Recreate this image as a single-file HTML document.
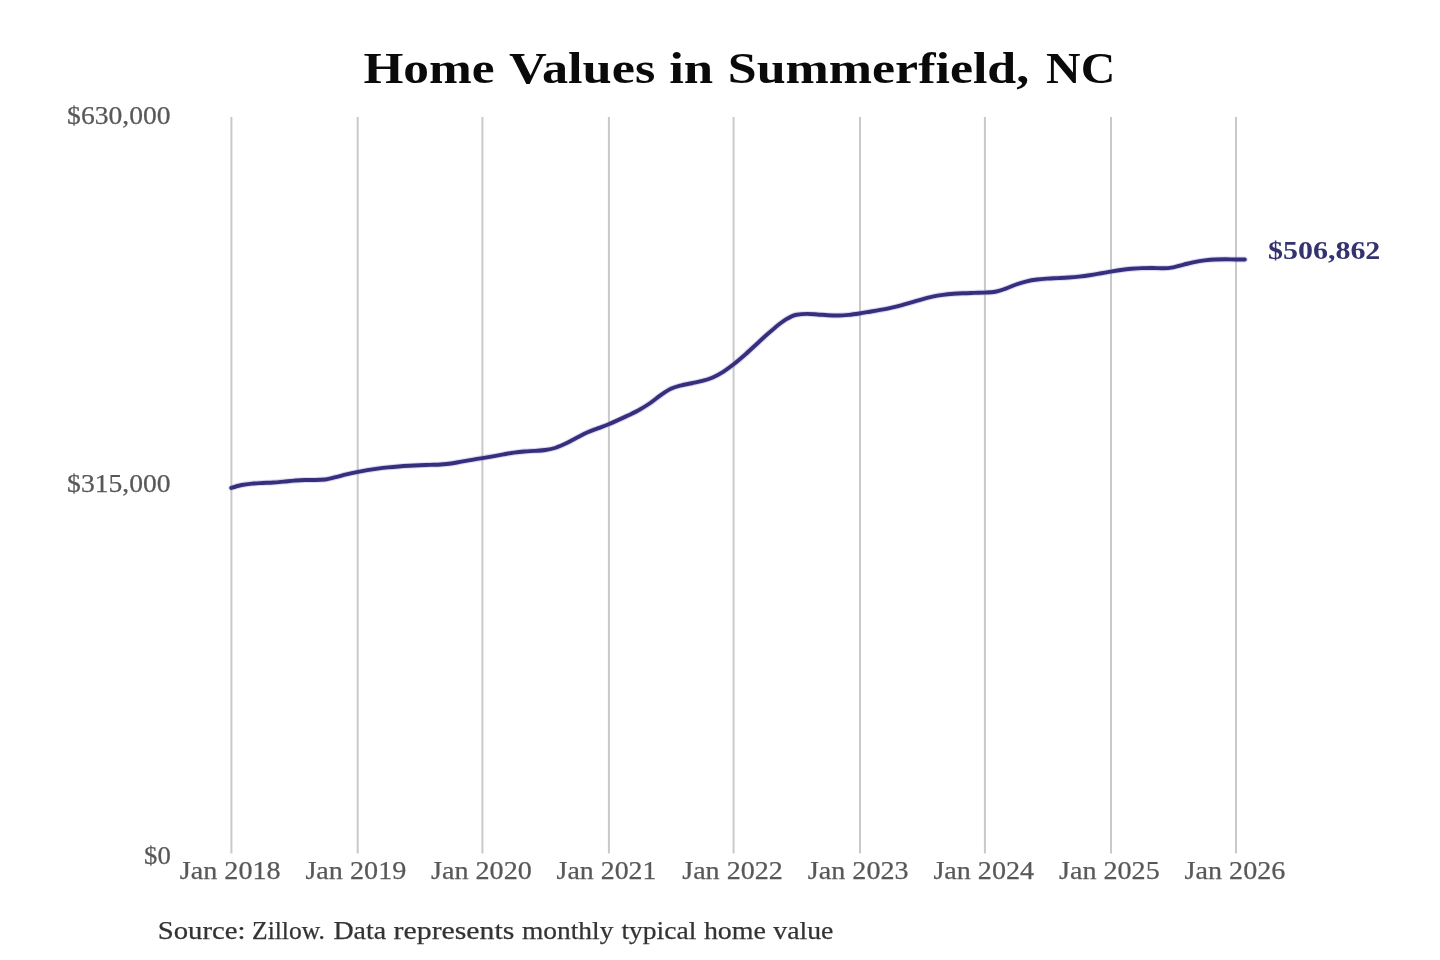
<!DOCTYPE html>
<html><head><meta charset="utf-8"><title>Home Values in Summerfield, NC</title><style>
html,body{margin:0;padding:0;background:#fff;}
svg{display:block;will-change:transform;}
text{font-family:"Liberation Serif",serif;}
</style></head><body>
<svg width="1440" height="960" viewBox="0 0 1440 960">
<rect width="1440" height="960" fill="#fff"/>
<g font-weight="bold">
<text x="363.40" y="82.7" font-size="44" textLength="131.20" lengthAdjust="spacingAndGlyphs" fill="#0a0a0a">Home</text>
<text x="508.98" y="82.7" font-size="44" textLength="146.33" lengthAdjust="spacingAndGlyphs" fill="#0a0a0a">Values</text>
<text x="669.21" y="82.7" font-size="44" textLength="44.03" lengthAdjust="spacingAndGlyphs" fill="#0a0a0a">in</text>
<text x="727.77" y="82.7" font-size="44" textLength="301.47" lengthAdjust="spacingAndGlyphs" fill="#0a0a0a">Summerfield,</text>
<text x="1046.14" y="82.7" font-size="44" textLength="69.14" lengthAdjust="spacingAndGlyphs" fill="#0a0a0a">NC</text>
</g>
<g stroke="#c9c9c9" stroke-width="2.0"><line x1="231.40" y1="117" x2="231.40" y2="853.5"/><line x1="357.70" y1="117" x2="357.70" y2="853.5"/><line x1="482.40" y1="117" x2="482.40" y2="853.5"/><line x1="608.90" y1="117" x2="608.90" y2="853.5"/><line x1="733.60" y1="117" x2="733.60" y2="853.5"/><line x1="860.00" y1="117" x2="860.00" y2="853.5"/><line x1="984.90" y1="117" x2="984.90" y2="853.5"/><line x1="1111.00" y1="117" x2="1111.00" y2="853.5"/><line x1="1236.00" y1="117" x2="1236.00" y2="853.5"/></g>
<g stroke="#585858" stroke-width="0.25">
<text x="67.13" y="124.2" font-size="26.2" textLength="103.51" lengthAdjust="spacingAndGlyphs" fill="#585858">$630,000</text>
<text x="67.13" y="492.2" font-size="26.2" textLength="103.51" lengthAdjust="spacingAndGlyphs" fill="#585858">$315,000</text>
<text x="144.06" y="863.7" font-size="26.2" textLength="26.74" lengthAdjust="spacingAndGlyphs" fill="#585858">$0</text>
<text x="179.82" y="879.3" font-size="26.2" textLength="100.83" lengthAdjust="spacingAndGlyphs" fill="#585858">Jan 2018</text>
<text x="305.42" y="879.3" font-size="26.2" textLength="100.91" lengthAdjust="spacingAndGlyphs" fill="#585858">Jan 2019</text>
<text x="431.02" y="879.3" font-size="26.2" textLength="100.83" lengthAdjust="spacingAndGlyphs" fill="#585858">Jan 2020</text>
<text x="556.62" y="879.3" font-size="26.2" textLength="99.84" lengthAdjust="spacingAndGlyphs" fill="#585858">Jan 2021</text>
<text x="682.22" y="879.3" font-size="26.2" textLength="100.62" lengthAdjust="spacingAndGlyphs" fill="#585858">Jan 2022</text>
<text x="807.82" y="879.3" font-size="26.2" textLength="100.80" lengthAdjust="spacingAndGlyphs" fill="#585858">Jan 2023</text>
<text x="933.42" y="879.3" font-size="26.2" textLength="100.60" lengthAdjust="spacingAndGlyphs" fill="#585858">Jan 2024</text>
<text x="1059.02" y="879.3" font-size="26.2" textLength="100.70" lengthAdjust="spacingAndGlyphs" fill="#585858">Jan 2025</text>
<text x="1184.62" y="879.3" font-size="26.2" textLength="100.72" lengthAdjust="spacingAndGlyphs" fill="#585858">Jan 2026</text>
</g>
<path d="M231.25,487.91 C234.74,486.81 238.23,485.71 241.72,484.99 C245.21,484.27 248.69,483.91 252.18,483.58 C255.67,483.24 259.16,483.15 262.65,482.97 C266.14,482.79 269.63,482.71 273.12,482.49 C276.61,482.26 280.09,481.93 283.58,481.63 C287.07,481.32 290.56,480.92 294.05,480.65 C297.54,480.38 301.03,480.07 304.52,480.02 C308.01,479.97 311.49,479.99 314.98,479.95 C318.47,479.90 321.96,479.78 325.45,479.44 C328.94,479.11 332.43,477.88 335.92,477.04 C339.41,476.20 342.89,475.23 346.38,474.41 C349.87,473.59 353.36,472.81 356.85,472.10 C360.34,471.39 363.83,470.74 367.32,470.15 C370.81,469.57 374.29,469.05 377.78,468.59 C381.27,468.13 384.76,467.73 388.25,467.37 C391.74,467.01 395.23,466.71 398.72,466.44 C402.21,466.17 405.69,465.95 409.18,465.75 C412.67,465.55 416.16,465.38 419.65,465.23 C423.14,465.08 426.63,464.98 430.12,464.84 C433.61,464.71 437.09,464.66 440.58,464.43 C444.07,464.19 447.56,463.92 451.05,463.45 C454.54,462.99 458.03,462.25 461.52,461.64 C465.01,461.03 468.49,460.40 471.98,459.81 C475.47,459.22 478.96,458.67 482.45,458.08 C485.94,457.50 489.43,456.92 492.92,456.31 C496.41,455.70 499.89,455.02 503.38,454.42 C506.87,453.82 510.36,453.18 513.85,452.69 C517.34,452.20 520.83,451.78 524.32,451.48 C527.81,451.17 531.29,451.12 534.78,450.88 C538.27,450.64 541.76,450.54 545.25,450.02 C548.74,449.49 552.23,448.86 555.72,447.75 C559.21,446.64 562.69,445.01 566.18,443.36 C569.67,441.70 573.16,439.62 576.65,437.82 C580.14,436.02 583.63,434.10 587.12,432.54 C590.61,430.97 594.09,429.76 597.58,428.43 C601.07,427.09 604.56,425.95 608.05,424.53 C611.54,423.10 615.03,421.45 618.52,419.88 C622.01,418.30 625.49,416.76 628.98,415.08 C632.47,413.40 635.96,411.75 639.45,409.78 C642.94,407.81 646.43,405.65 649.92,403.26 C653.41,400.88 656.89,397.86 660.38,395.45 C663.87,393.04 667.36,390.49 670.85,388.81 C674.34,387.14 677.83,386.32 681.32,385.39 C684.81,384.47 688.29,384.01 691.78,383.27 C695.27,382.54 698.76,381.95 702.25,380.98 C705.74,380.00 709.23,378.95 712.72,377.42 C716.21,375.89 719.69,373.97 723.18,371.78 C726.67,369.59 730.16,367.02 733.65,364.31 C737.14,361.60 740.63,358.58 744.12,355.52 C747.61,352.47 751.09,349.18 754.58,345.97 C758.07,342.77 761.56,339.43 765.05,336.29 C768.54,333.16 772.03,329.97 775.52,327.16 C779.01,324.35 782.49,321.51 785.98,319.43 C789.47,317.36 792.96,315.29 796.45,314.74 C799.94,314.19 803.43,313.91 806.92,313.91 C810.41,313.91 813.89,314.25 817.38,314.47 C820.87,314.69 824.36,315.04 827.85,315.21 C831.34,315.38 834.83,315.50 838.32,315.50 C841.81,315.50 845.29,315.19 848.78,314.85 C852.27,314.52 855.76,314.00 859.25,313.48 C862.74,312.97 866.23,312.34 869.72,311.75 C873.21,311.16 876.69,310.58 880.18,309.94 C883.67,309.30 887.16,308.66 890.65,307.91 C894.14,307.16 897.63,306.35 901.12,305.44 C904.61,304.52 908.09,303.45 911.58,302.43 C915.07,301.40 918.56,300.27 922.05,299.30 C925.54,298.34 929.03,297.38 932.52,296.63 C936.01,295.88 939.49,295.30 942.98,294.83 C946.47,294.35 949.96,294.04 953.45,293.77 C956.94,293.50 960.43,293.35 963.92,293.19 C967.41,293.04 970.89,292.96 974.38,292.85 C977.87,292.75 981.36,292.76 984.85,292.58 C988.34,292.40 991.83,292.30 995.32,291.74 C998.81,291.18 1002.29,289.80 1005.78,288.59 C1009.27,287.38 1012.76,285.70 1016.25,284.49 C1019.74,283.28 1023.23,282.15 1026.72,281.32 C1030.21,280.49 1033.69,279.95 1037.18,279.50 C1040.67,279.05 1044.16,278.84 1047.65,278.61 C1051.14,278.37 1054.63,278.28 1058.12,278.09 C1061.61,277.90 1065.09,277.73 1068.58,277.47 C1072.07,277.22 1075.56,276.94 1079.05,276.57 C1082.54,276.20 1086.03,275.78 1089.52,275.27 C1093.01,274.76 1096.49,274.14 1099.98,273.53 C1103.47,272.93 1106.96,272.24 1110.45,271.64 C1113.94,271.05 1117.43,270.43 1120.92,269.96 C1124.41,269.48 1127.89,269.08 1131.38,268.78 C1134.87,268.48 1138.36,268.21 1141.85,268.15 C1145.34,268.09 1148.83,268.06 1152.32,268.06 C1155.81,268.06 1159.29,268.24 1162.78,268.24 C1166.27,268.24 1169.76,267.94 1173.25,267.34 C1176.74,266.75 1180.23,265.49 1183.72,264.62 C1187.21,263.75 1190.69,262.81 1194.18,262.11 C1197.67,261.40 1201.16,260.83 1204.65,260.39 C1208.14,259.95 1211.63,259.59 1215.12,259.49 C1218.61,259.38 1222.09,259.32 1225.58,259.32 C1229.07,259.32 1232.56,259.49 1236.05,259.50 C1238.97,259.50 1241.88,259.50 1244.80,259.50" fill="none" stroke="#8a80e0" stroke-width="6.0" stroke-linecap="round" stroke-linejoin="round" stroke-opacity="0.3"/>
<path d="M231.25,487.91 C234.74,486.81 238.23,485.71 241.72,484.99 C245.21,484.27 248.69,483.91 252.18,483.58 C255.67,483.24 259.16,483.15 262.65,482.97 C266.14,482.79 269.63,482.71 273.12,482.49 C276.61,482.26 280.09,481.93 283.58,481.63 C287.07,481.32 290.56,480.92 294.05,480.65 C297.54,480.38 301.03,480.07 304.52,480.02 C308.01,479.97 311.49,479.99 314.98,479.95 C318.47,479.90 321.96,479.78 325.45,479.44 C328.94,479.11 332.43,477.88 335.92,477.04 C339.41,476.20 342.89,475.23 346.38,474.41 C349.87,473.59 353.36,472.81 356.85,472.10 C360.34,471.39 363.83,470.74 367.32,470.15 C370.81,469.57 374.29,469.05 377.78,468.59 C381.27,468.13 384.76,467.73 388.25,467.37 C391.74,467.01 395.23,466.71 398.72,466.44 C402.21,466.17 405.69,465.95 409.18,465.75 C412.67,465.55 416.16,465.38 419.65,465.23 C423.14,465.08 426.63,464.98 430.12,464.84 C433.61,464.71 437.09,464.66 440.58,464.43 C444.07,464.19 447.56,463.92 451.05,463.45 C454.54,462.99 458.03,462.25 461.52,461.64 C465.01,461.03 468.49,460.40 471.98,459.81 C475.47,459.22 478.96,458.67 482.45,458.08 C485.94,457.50 489.43,456.92 492.92,456.31 C496.41,455.70 499.89,455.02 503.38,454.42 C506.87,453.82 510.36,453.18 513.85,452.69 C517.34,452.20 520.83,451.78 524.32,451.48 C527.81,451.17 531.29,451.12 534.78,450.88 C538.27,450.64 541.76,450.54 545.25,450.02 C548.74,449.49 552.23,448.86 555.72,447.75 C559.21,446.64 562.69,445.01 566.18,443.36 C569.67,441.70 573.16,439.62 576.65,437.82 C580.14,436.02 583.63,434.10 587.12,432.54 C590.61,430.97 594.09,429.76 597.58,428.43 C601.07,427.09 604.56,425.95 608.05,424.53 C611.54,423.10 615.03,421.45 618.52,419.88 C622.01,418.30 625.49,416.76 628.98,415.08 C632.47,413.40 635.96,411.75 639.45,409.78 C642.94,407.81 646.43,405.65 649.92,403.26 C653.41,400.88 656.89,397.86 660.38,395.45 C663.87,393.04 667.36,390.49 670.85,388.81 C674.34,387.14 677.83,386.32 681.32,385.39 C684.81,384.47 688.29,384.01 691.78,383.27 C695.27,382.54 698.76,381.95 702.25,380.98 C705.74,380.00 709.23,378.95 712.72,377.42 C716.21,375.89 719.69,373.97 723.18,371.78 C726.67,369.59 730.16,367.02 733.65,364.31 C737.14,361.60 740.63,358.58 744.12,355.52 C747.61,352.47 751.09,349.18 754.58,345.97 C758.07,342.77 761.56,339.43 765.05,336.29 C768.54,333.16 772.03,329.97 775.52,327.16 C779.01,324.35 782.49,321.51 785.98,319.43 C789.47,317.36 792.96,315.29 796.45,314.74 C799.94,314.19 803.43,313.91 806.92,313.91 C810.41,313.91 813.89,314.25 817.38,314.47 C820.87,314.69 824.36,315.04 827.85,315.21 C831.34,315.38 834.83,315.50 838.32,315.50 C841.81,315.50 845.29,315.19 848.78,314.85 C852.27,314.52 855.76,314.00 859.25,313.48 C862.74,312.97 866.23,312.34 869.72,311.75 C873.21,311.16 876.69,310.58 880.18,309.94 C883.67,309.30 887.16,308.66 890.65,307.91 C894.14,307.16 897.63,306.35 901.12,305.44 C904.61,304.52 908.09,303.45 911.58,302.43 C915.07,301.40 918.56,300.27 922.05,299.30 C925.54,298.34 929.03,297.38 932.52,296.63 C936.01,295.88 939.49,295.30 942.98,294.83 C946.47,294.35 949.96,294.04 953.45,293.77 C956.94,293.50 960.43,293.35 963.92,293.19 C967.41,293.04 970.89,292.96 974.38,292.85 C977.87,292.75 981.36,292.76 984.85,292.58 C988.34,292.40 991.83,292.30 995.32,291.74 C998.81,291.18 1002.29,289.80 1005.78,288.59 C1009.27,287.38 1012.76,285.70 1016.25,284.49 C1019.74,283.28 1023.23,282.15 1026.72,281.32 C1030.21,280.49 1033.69,279.95 1037.18,279.50 C1040.67,279.05 1044.16,278.84 1047.65,278.61 C1051.14,278.37 1054.63,278.28 1058.12,278.09 C1061.61,277.90 1065.09,277.73 1068.58,277.47 C1072.07,277.22 1075.56,276.94 1079.05,276.57 C1082.54,276.20 1086.03,275.78 1089.52,275.27 C1093.01,274.76 1096.49,274.14 1099.98,273.53 C1103.47,272.93 1106.96,272.24 1110.45,271.64 C1113.94,271.05 1117.43,270.43 1120.92,269.96 C1124.41,269.48 1127.89,269.08 1131.38,268.78 C1134.87,268.48 1138.36,268.21 1141.85,268.15 C1145.34,268.09 1148.83,268.06 1152.32,268.06 C1155.81,268.06 1159.29,268.24 1162.78,268.24 C1166.27,268.24 1169.76,267.94 1173.25,267.34 C1176.74,266.75 1180.23,265.49 1183.72,264.62 C1187.21,263.75 1190.69,262.81 1194.18,262.11 C1197.67,261.40 1201.16,260.83 1204.65,260.39 C1208.14,259.95 1211.63,259.59 1215.12,259.49 C1218.61,259.38 1222.09,259.32 1225.58,259.32 C1229.07,259.32 1232.56,259.49 1236.05,259.50 C1238.97,259.50 1241.88,259.50 1244.80,259.50" fill="none" stroke="#36307c" stroke-width="3.9" stroke-linecap="round" stroke-linejoin="round"/>
<g font-weight="bold"><text x="1267.95" y="258.9" font-size="25" textLength="112.42" lengthAdjust="spacingAndGlyphs" fill="#35336f">$506,862</text></g>
<g stroke="#333" stroke-width="0.25">
<text x="157.76" y="939" font-size="26.2" textLength="87.83" lengthAdjust="spacingAndGlyphs" fill="#333">Source:</text>
<text x="252.09" y="939" font-size="26.2" textLength="72.85" lengthAdjust="spacingAndGlyphs" fill="#333">Zillow.</text>
<text x="333.43" y="939" font-size="26.2" textLength="52.72" lengthAdjust="spacingAndGlyphs" fill="#333">Data</text>
<text x="393.60" y="939" font-size="26.2" textLength="120.78" lengthAdjust="spacingAndGlyphs" fill="#333">represents</text>
<text x="521.95" y="939" font-size="26.2" textLength="91.45" lengthAdjust="spacingAndGlyphs" fill="#333">monthly</text>
<text x="621.42" y="939" font-size="26.2" textLength="74.96" lengthAdjust="spacingAndGlyphs" fill="#333">typical</text>
<text x="703.92" y="939" font-size="26.2" textLength="62.03" lengthAdjust="spacingAndGlyphs" fill="#333">home</text>
<text x="773.30" y="939" font-size="26.2" textLength="60.12" lengthAdjust="spacingAndGlyphs" fill="#333">value</text>
</g>
</svg>
</body></html>
